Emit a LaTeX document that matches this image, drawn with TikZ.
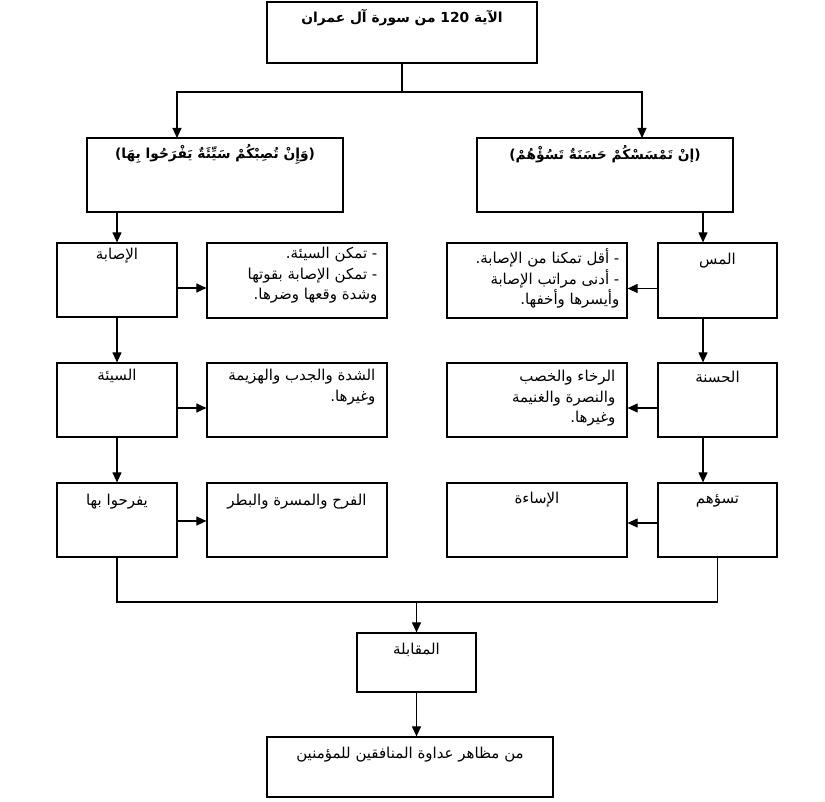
\documentclass[tikz,border=0pt]{standalone}
\usepackage{fontspec}
\newfontfamily\arabicfont[Script=Arabic]{DejaVu Sans}
\TeXXeTstate=1
\usetikzlibrary{arrows.meta,positioning,calc}
\tikzstyle{box}=[draw,line width=1.2pt,rectangle,inner sep=0pt]
\tikzstyle{conn}=[line width=1.1pt]
\tikzstyle{arr}=[conn,-{Triangle[length=10pt,width=9pt]}]
\tikzstyle{txt}=[inner sep=0pt,font=\arabicfont\fontsize{15}{20.5}\selectfont]
\tikzstyle{head}=[inner sep=0pt,font=\arabicfont\bfseries\fontsize{13.8}{16}\selectfont]
\newcommand{\artext}[1]{\beginR#1\endR}

\begin{document}
\begin{tikzpicture}[x=1pt,y=-1pt]
\useasboundingbox (0,0) rectangle (825,802);
% boxes
\node [box,minimum width=270pt,minimum height=61pt] (aya) at (402,32.5) {};
\node [box,minimum width=256pt,minimum height=74pt] (lq) at (215,175) {};
\node [box,minimum width=256pt,minimum height=74pt] (rq) at (605,175) {};
\node [box,minimum width=120pt,minimum height=74pt] (isaba) at (117,280) {};
\node [box,minimum width=180pt,minimum height=75pt] (tamakkun) at (297,280.5) {};
\node [box,minimum width=119pt,minimum height=75pt] (mass) at (717.5,280.5) {};
\node [box,minimum width=180pt,minimum height=75pt] (aqall) at (537,280.5) {};
\node [box,minimum width=120pt,minimum height=74pt] (sayyia) at (117,400) {};
\node [box,minimum width=180pt,minimum height=74pt] (shidda) at (297,400) {};
\node [box,minimum width=119pt,minimum height=74pt] (hasana) at (717.5,400) {};
\node [box,minimum width=180pt,minimum height=74pt] (rakha) at (537,400) {};
\node [box,minimum width=120pt,minimum height=74pt] (yafrahu) at (117,520) {};
\node [box,minimum width=180pt,minimum height=74pt] (farah) at (297,520) {};
\node [box,minimum width=119pt,minimum height=74pt] (tasuuhum) at (717.5,520) {};
\node [box,minimum width=180pt,minimum height=74pt] (isaa) at (537,520) {};
\node [box,minimum width=119pt,minimum height=59pt] (muqabala) at (416.5,662.5) {};
\node [box,minimum width=286pt,minimum height=60pt] (mazahir) at (410,767) {};
% texts
\node [head] (ayaT) at ([yshift=-16pt]aya.north) {\artext{الآية 120 من سورة آل عمران}};
\node [head] (lqT) at ([yshift=-17pt]lq.north) {\artext{(وَإِنْ تُصِبْكُمْ سَيِّئَةٌ يَفْرَحُوا بِهَا)}};
\node [head] (rqT) at ([yshift=-17pt]rq.north) {\artext{(إنْ تَمْسَسْكُمْ حَسَنَةٌ تَسُؤْهُمْ)}};
\node [txt] (isabaT) at ([yshift=-13pt]isaba.north) {\artext{الإصابة}};
\node [txt,align=right,anchor=north east] (tamakkunT) at ([xshift=-10pt,yshift=-5pt]tamakkun.north east)
  {\artext{- تمكن السيئة\hbox{.}}\\ \artext{- تمكن الإصابة بقوتها}\\ \artext{وشدة وقعها وضرها\hbox{.}}};
\node [txt] (massT) at ([yshift=-18pt]mass.north) {\artext{المس}};
\node [txt,align=right,anchor=north east] (aqallT) at ([xshift=-8pt,yshift=-6pt]aqall.north east)
  {\artext{- أقل تمكنا من الإصابة\hbox{.}}\\ \artext{- أدنى مراتب الإصابة}\\ \artext{وأيسرها وأخفها\hbox{.}}};
\node [txt] (sayyiaT) at ([yshift=-14pt]sayyia.north) {\artext{السيئة}};
\node [txt,align=right,anchor=north east] (shiddaT) at ([xshift=-12pt,yshift=-7pt]shidda.north east)
  {\artext{الشدة والجدب والهزيمة}\\ \artext{وغيرها\hbox{.}}};
\node [txt] (hasanaT) at ([yshift=-15pt]hasana.north) {\artext{الحسنة}};
\node [txt,align=right,anchor=north east] (rakhaT) at ([xshift=-12pt,yshift=-8pt]rakha.north east)
  {\artext{الرخاء والخصب}\\ \artext{والنصرة والغنيمة}\\ \artext{وغيرها\hbox{.}}};
\node [txt] (yafrahuT) at ([yshift=-19pt]yafrahu.north) {\artext{يفرحوا بها}};
\node [txt] (farahT) at ([yshift=-19pt]farah.north) {\artext{الفرح والمسرة والبطر}};
\node [txt] (tasuuhumT) at ([yshift=-19pt]tasuuhum.north) {\artext{تسؤهم}};
\node [txt] (isaaT) at ([yshift=-17pt]isaa.north) {\artext{الإساءة}};
\node [txt] (muqabalaT) at ([yshift=-17pt]muqabala.north) {\artext{المقابلة}};
\node [txt] (mazahirT) at ([yshift=-18pt]mazahir.north) {\artext{من مظاهر عداوة المنافقين للمؤمنين}};
% connectors
\coordinate (split) at (402,92);
\coordinate (lqin) at (177,138);
\coordinate (rqin) at (642,138);
\coordinate (rqout) at (703,212);
\coordinate (join) at (416.5,602);
\draw [conn] (aya.south) -- (split);
\draw [arr] (split) -| (lqin);
\draw [arr] (split) -| (rqin);
\draw [arr] (lq.south -| isaba) -- (isaba.north);
\draw [arr] (isaba.south) -- (sayyia.north);
\draw [arr] (sayyia.south) -- (yafrahu.north);
\draw [arr] (rqout) -- (rqout |- mass.north);
\draw [arr] ([xshift=-14.5pt]mass.south) -- ([xshift=-14.5pt]hasana.north);
\draw [arr] ([xshift=-14.5pt]hasana.south) -- ([xshift=-14.5pt]tasuuhum.north);
\draw [arr] ([yshift=-8pt]isaba.east) -- ([yshift=-8pt]isaba.east -| tamakkun.west);
\draw [arr] ([yshift=-8pt]sayyia.east) -- ([yshift=-8pt]sayyia.east -| shidda.west);
\draw [arr] ([yshift=-1pt]yafrahu.east) -- ([yshift=-1pt]yafrahu.east -| farah.west);
\draw [arr] ([yshift=-8pt]mass.west) -- ([yshift=-8pt]mass.west -| aqall.east);
\draw [arr] ([yshift=-8pt]hasana.west) -- ([yshift=-8pt]hasana.west -| rakha.east);
\draw [arr] ([yshift=-3pt]tasuuhum.west) -- ([yshift=-3pt]tasuuhum.west -| isaa.east);
\draw [conn] (yafrahu.south) -- (yafrahu.south |- join) -- (tasuuhum.south |- join) -- (tasuuhum.south);
\draw [arr] (join) -- (muqabala.north);
\draw [arr] (muqabala.south) -- (muqabala.south |- mazahir.north);
\end{tikzpicture}
\end{document}
